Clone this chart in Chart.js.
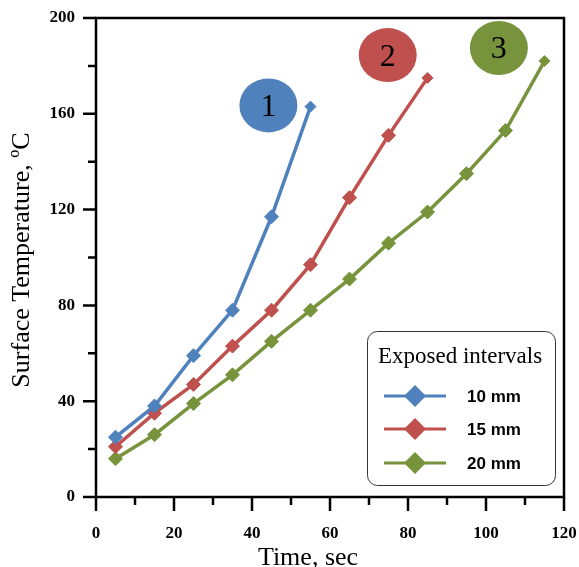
<!DOCTYPE html>
<html lang="en">

<head>
    <meta charset="UTF-8">
    <title>Surface Temperature</title>
    <script src="https://cdn.jsdelivr.net/npm/chart.js"></script>
    <style>
        body {
            margin: 0;
            background: white;
        }
    </style>
</head>

<body>
    <canvas id="tempChart" width="579" height="567"></canvas>
    <script>
        // data
        var timeSec = [5, 15, 25, 35, 45, 55, 65, 75, 85, 95, 105, 115];
        var temp10mm = [25, 38, 59, 78, 117, 163];
        var temp15mm = [21, 35, 47, 63, 78, 97, 125, 151, 175];
        var temp20mm = [16, 26, 39, 51, 65, 78, 91, 106, 119, 135, 153, 182];
        var seriesLabels = ['10 mm', '15 mm', '20 mm'];
        var curveNumbers = ['1', '2', '3'];
        var legendTitle = 'Exposed intervals';

        var colors = ['#4F81BD', '#C0504D', '#77933C'];

        function toPoints(values) {
            return values.map(function (v, i) { return { x: timeSec[i], y: v }; });
        }

        function makeSet(label, values, color) {
            return {
                label: label,
                data: toPoints(values),
                borderColor: color,
                backgroundColor: color,
                borderWidth: 3.5,
                pointStyle: 'rectRot',
                pointRadius: function (ctx) { return ctx.dataIndex === values.length - 1 ? 5.5 : 7; },
                pointBorderWidth: 1,
                tension: 0
            };
        }

        // where the numbered circles sit, in data units
        var bubbleSpots = [{ x: 44.2, y: 163.5 }, { x: 74.8, y: 184.5 }, { x: 103.3, y: 187.5 }];

        var framePlugin = {
            id: 'frame',
            afterDraw: function (chart) {
                var ctx = chart.ctx;
                var area = chart.chartArea;
                var xs = chart.scales.x;
                var ys = chart.scales.y;
                ctx.save();

                // frame
                ctx.strokeStyle = '#000';
                ctx.lineWidth = 2.5;
                ctx.strokeRect(area.left, area.top, area.right - area.left, area.bottom - area.top);

                // outward ticks, long at labelled values
                ctx.lineWidth = 2.5;
                ctx.beginPath();
                ys.ticks.forEach(function (t) {
                    var py = ys.getPixelForValue(t.value);
                    var len = t.value % 40 === 0 ? 13 : 8;
                    ctx.moveTo(area.left - len, py);
                    ctx.lineTo(area.left, py);
                });
                xs.ticks.forEach(function (t) {
                    var px = xs.getPixelForValue(t.value);
                    var len = t.value % 20 === 0 ? 14 : 8;
                    ctx.moveTo(px, area.bottom);
                    ctx.lineTo(px, area.bottom + len);
                });
                ctx.stroke();

                // axis titles
                ctx.fillStyle = '#000';
                ctx.font = '26px "Liberation Serif"';
                ctx.textAlign = 'center';
                ctx.textBaseline = 'alphabetic';
                ctx.fillText('Time, sec', 308, 565);
                ctx.save();
                ctx.translate(29, 260);
                ctx.rotate(-Math.PI / 2);
                ctx.fillText('Surface Temperature, \u00BAC', 0, 0);
                ctx.restore();

                // numbered circles
                bubbleSpots.forEach(function (b, i) {
                    var cx = xs.getPixelForValue(b.x);
                    var cy = ys.getPixelForValue(b.y);
                    ctx.fillStyle = colors[i];
                    ctx.beginPath();
                    ctx.ellipse(cx, cy, 29, 27, 0, 0, Math.PI * 2);
                    ctx.fill();
                    ctx.fillStyle = '#000';
                    ctx.font = '32px "Liberation Serif"';
                    ctx.textBaseline = 'middle';
                    ctx.fillText(curveNumbers[i], cx, cy + 2);
                });

                // legend box
                var lx = 367, ly = 331, lw = 188, lh = 154;
                ctx.fillStyle = '#fff';
                ctx.strokeStyle = '#333';
                ctx.lineWidth = 1;
                ctx.beginPath();
                ctx.roundRect(lx + 0.5, ly + 0.5, lw, lh, 10);
                ctx.fill();
                ctx.stroke();

                ctx.fillStyle = '#000';
                ctx.font = '23px "Liberation Serif"';
                ctx.textAlign = 'left';
                ctx.textBaseline = 'alphabetic';
                ctx.fillText(legendTitle, 378, 363);

                var rows = [396, 429, 463];
                chart.data.datasets.forEach(function (ds, i) {
                    var ry = rows[i];
                    ctx.strokeStyle = ds.borderColor;
                    ctx.lineWidth = 3;
                    ctx.beginPath();
                    ctx.moveTo(384, ry);
                    ctx.lineTo(446, ry);
                    ctx.stroke();
                    ctx.fillStyle = ds.borderColor;
                    ctx.beginPath();
                    ctx.moveTo(415, ry - 11);
                    ctx.lineTo(426, ry);
                    ctx.lineTo(415, ry + 11);
                    ctx.lineTo(404, ry);
                    ctx.closePath();
                    ctx.fill();
                    ctx.fillStyle = '#000';
                    ctx.font = 'bold 17px "Liberation Sans"';
                    ctx.textBaseline = 'middle';
                    ctx.fillText(ds.label, 467, ry + 1);
                });

                ctx.restore();
            }
        };

        var tickFont = { family: 'Liberation Serif', size: 17, weight: 'bold' };

        new Chart(document.getElementById('tempChart'), {
            type: 'line',
            data: {
                datasets: [
                    makeSet(seriesLabels[0], temp10mm, colors[0]),
                    makeSet(seriesLabels[1], temp15mm, colors[1]),
                    makeSet(seriesLabels[2], temp20mm, colors[2])
                ]
            },
            options: {
                responsive: false,
                animation: false,
                layout: { padding: { top: 18, right: 15, left: 0, bottom: 0 } },
                plugins: {
                    legend: { display: false },
                    tooltip: { enabled: false }
                },
                scales: {
                    x: {
                        type: 'linear',
                        min: 0,
                        max: 120,
                        grid: { display: false, drawTicks: false },
                        border: { display: false },
                        ticks: {
                            stepSize: 10,
                            color: '#000',
                            font: tickFont,
                            padding: 26,
                            maxRotation: 0,
                            autoSkip: false,
                            callback: function (v) { return v % 20 === 0 ? v : ''; }
                        },
                        afterFit: function (scale) {
                            scale.height = 70;
                            scale.paddingLeft = 0;
                            scale.paddingRight = 0;
                        }
                    },
                    y: {
                        min: 0,
                        max: 200,
                        grid: { display: false, drawTicks: false },
                        border: { display: false },
                        ticks: {
                            stepSize: 20,
                            color: '#000',
                            font: tickFont,
                            padding: 21,
                            autoSkip: false,
                            callback: function (v) { return v % 40 === 0 ? v : ''; }
                        },
                        afterFit: function (scale) {
                            scale.width = 96;
                            scale.paddingTop = 0;
                            scale.paddingBottom = 0;
                        }
                    }
                }
            },
            plugins: [framePlugin]
        });
    </script>
</body>

</html>
